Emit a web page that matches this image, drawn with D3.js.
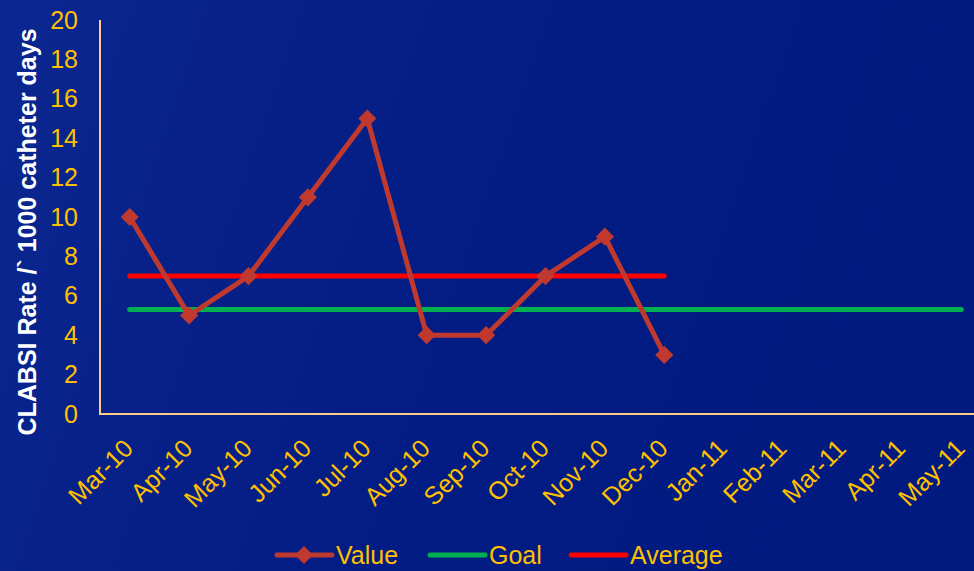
<!DOCTYPE html>
<html><head><meta charset="utf-8">
<script src="https://cdn.jsdelivr.net/npm/d3@7"></script>
<style>html,body{margin:0;padding:0;overflow:hidden;background:#021c85}</style>
</head><body>
<script>
const categories = ["Mar-10","Apr-10","May-10","Jun-10","Jul-10","Aug-10","Sep-10","Oct-10","Nov-10","Dec-10","Jan-11","Feb-11","Mar-11","Apr-11","May-11"];
const values = [10,5,7,11,15,4,4,7,9,3];
const goal = 5.3;
const average = 7;
const yTicks = [0,2,4,6,8,10,12,14,16,18,20];
const legendLabels = ["Value","Goal","Average"];

(function(){
const W = 974, H = 571;
const svg = d3.select("body").append("svg").attr("width", W).attr("height", H);
const defs = svg.append("defs");
const g1 = defs.append("linearGradient").attr("id","bg").attr("x1","0").attr("y1","0").attr("x2","1").attr("y2","0.2");
g1.append("stop").attr("offset","0").attr("stop-color","#0c2791");
g1.append("stop").attr("offset","0.25").attr("stop-color","#072189");
g1.append("stop").attr("offset","0.6").attr("stop-color","#021c83");
g1.append("stop").attr("offset","1").attr("stop-color","#001a80");
svg.append("rect").attr("width",W).attr("height",H).attr("fill","url(#bg)");

const mLeft = 100, mTop = 20, mBottom = 414;
const x = d3.scaleBand().domain(categories).range([mLeft, mLeft + 59.4*categories.length]);
const y = d3.scaleLinear().domain([0,20]).range([mBottom, mTop]);
const cx = c => x(c) + x.bandwidth()/2;

const font = "Liberation Sans, Arial, sans-serif";
const gold = "#ffc000";

const yAxis = d3.axisLeft(y).tickValues(yTicks).tickSize(0).tickPadding(22);
const ya = svg.append("g").attr("transform",`translate(${mLeft},0)`).call(yAxis);
ya.select(".domain").remove();
ya.selectAll("text").attr("fill",gold).style("font-family",font).style("font-size","25px");

const xAxis = d3.axisBottom(x).tickSize(0).tickPadding(0);
const xa = svg.append("g").attr("transform",`translate(0,${mBottom})`).call(xAxis);
xa.select(".domain").remove();
xa.selectAll("text").attr("fill",gold).style("font-family",font).style("font-size","25px")
  .attr("text-anchor","end").attr("dy",0).attr("y",0)
  .attr("transform","translate(5,36) rotate(-45)");

svg.append("line").attr("x1",mLeft).attr("x2",mLeft).attr("y1",mTop).attr("y2",mBottom+1)
  .attr("stroke","#ffcc88").attr("stroke-width",2);
svg.append("line").attr("x1",mLeft).attr("x2",W).attr("y1",mBottom).attr("y2",mBottom)
  .attr("stroke","#ffcc88").attr("stroke-width",2);

svg.append("line").attr("x1",cx(categories[0])).attr("x2",cx(categories[categories.length-1]))
  .attr("y1",y(goal)).attr("y2",y(goal)).attr("stroke","#00b050").attr("stroke-width",5).attr("stroke-linecap","round");
svg.append("line").attr("x1",cx(categories[0])).attr("x2",cx(categories[values.length-1]))
  .attr("y1",y(average)).attr("y2",y(average)).attr("stroke","#ff0000").attr("stroke-width",5).attr("stroke-linecap","round");

const valColor = "#c0392f";
const pts = values.map((v,i)=>[cx(categories[i]), y(v)]);
svg.append("path").attr("d", d3.line()(pts)).attr("fill","none").attr("stroke",valColor).attr("stroke-width",5).attr("stroke-linejoin","round");
const diamond = d3.symbol().type(d3.symbolSquare).size(165);
svg.selectAll(".pt").data(pts).join("path")
  .attr("d", diamond()).attr("transform", d=>`translate(${d[0]},${d[1]}) rotate(45)`).attr("fill",valColor);

svg.append("text").attr("transform",`translate(36,232) rotate(-90)`)
  .attr("text-anchor","middle").attr("fill","#ffffff").style("font-family",font)
  .style("font-size","25px").style("font-weight","bold").text("CLABSI Rate /` 1000 catheter days");

const ly = 555;
const legendItems = [
  {label: legendLabels[0], color: valColor, x: 277, marker: true},
  {label: legendLabels[1], color: "#00b050", x: 430, marker: false},
  {label: legendLabels[2], color: "#ff0000", x: 571, marker: false}
];
legendItems.forEach(d=>{
  svg.append("line").attr("x1",d.x).attr("x2",d.x+55).attr("y1",ly).attr("y2",ly)
    .attr("stroke",d.color).attr("stroke-width",5).attr("stroke-linecap","round");
  if (d.marker) svg.append("path").attr("d",diamond()).attr("transform",`translate(${d.x+27},${ly}) rotate(45)`).attr("fill",d.color);
  svg.append("text").attr("x",d.x+59).attr("y",ly).attr("dy","0.35em").attr("fill",gold)
    .style("font-family",font).style("font-size","25px").text(d.label);
});
})();
</script>
</body></html>
